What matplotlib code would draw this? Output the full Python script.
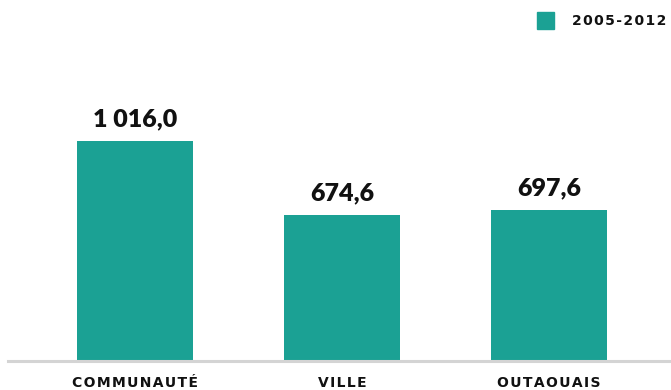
import matplotlib
matplotlib.use("Agg")
import matplotlib.pyplot as plt
import matplotlib.patches as patches

# Series values
categories = ["COMMUNAUTÉ", "VILLE", "OUTAOUAIS"]
values = [1016.0, 674.6, 697.6]
series_name = "2005-2012"

BAR_COLOR = "#1ba194"
TEXT_COLOR = "#111111"


def spaced(s, sep="\u200a"):
    # widen the tracking of small caps labels
    return sep.join(s)


def fr_number(v):
    # 1016.0 -> "1 016,0"
    txt = f"{v:,.1f}"
    return txt.replace(",", " ").replace(".", ",")


fig = plt.figure(figsize=(6.71, 3.90), dpi=100)
ax = fig.add_axes([8 / 671, (390 - 361) / 390, 663 / 671, 321 / 390])

x = list(range(len(categories)))
ax.bar(x, values, width=0.56, color=BAR_COLOR, zorder=2)

ax.set_xlim(-0.6135, 2.589)
ax.set_ylim(0, 1016.0 * 321 / 220)

# value labels above bars
for xi, v in zip(x, values):
    ax.annotate(fr_number(v), (xi, v), xytext=(0, 8), textcoords="offset points",
                ha="center", va="bottom", fontsize=18, fontweight="heavy",
                family="Lato", color=TEXT_COLOR)

# axis styling: only a grey baseline
for side in ["top", "right", "left"]:
    ax.spines[side].set_visible(False)
ax.spines["bottom"].set_color("#d4d4d4")
ax.spines["bottom"].set_linewidth(2.2)
ax.set_yticks([])
ax.set_xticks(x)
ax.set_xticklabels([spaced(c) for c in categories], fontsize=10,
                   fontweight="bold", family="DejaVu Sans", color=TEXT_COLOR)
ax.tick_params(axis="x", length=0, pad=11)

# legend in the top right corner
fig.patches.append(patches.Rectangle((537 / 671, 1 - 29 / 390), 17 / 671, 17 / 390,
                                     transform=fig.transFigure, color=BAR_COLOR))
fig.text(572 / 671, 1 - 21 / 390, spaced(series_name), fontsize=10, fontweight="bold",
         family="DejaVu Sans", color=TEXT_COLOR, ha="left", va="center")

fig.savefig("out.png", dpi=100)
